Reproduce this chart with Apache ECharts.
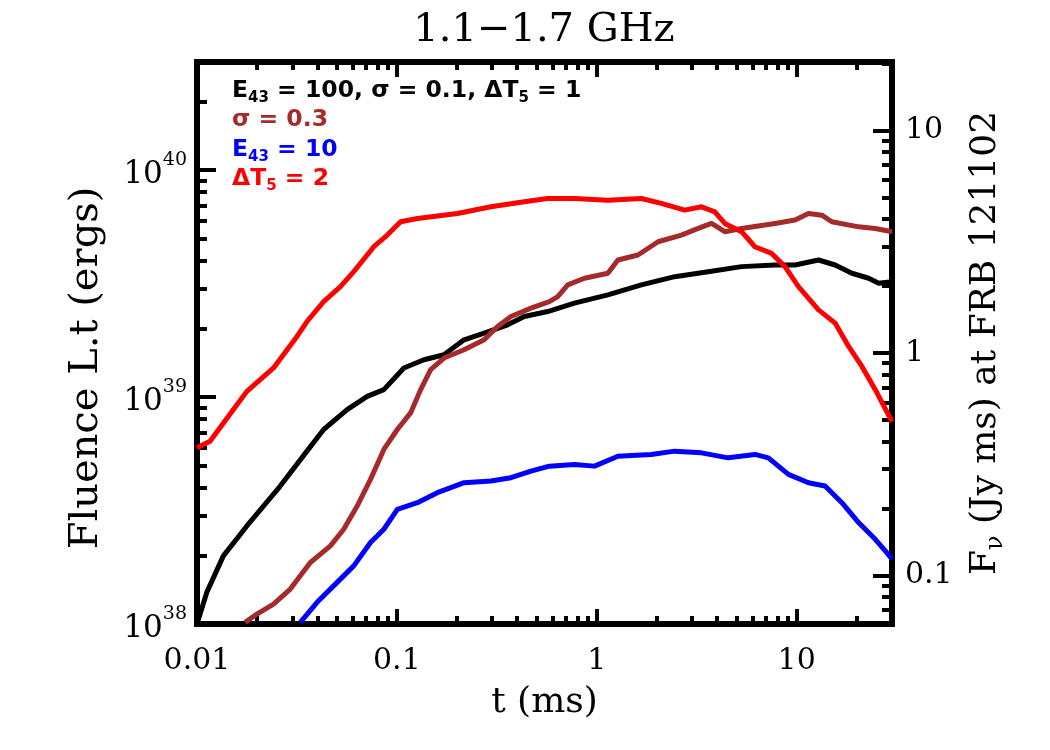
<!DOCTYPE html>
<html><head><meta charset="utf-8">
<script src="https://cdn.jsdelivr.net/npm/echarts@6/dist/echarts.min.js"></script>
<style>html,body{margin:0;padding:0;background:#fff}#c{width:1050px;height:750px}</style>
</head><body><div id="c"></div>
<script>
// ---------- text ----------
const titleText = '1.1\u22121.7 GHz';
const xName = 't (ms)';
const yName = 'Fluence L.t (ergs)';
const y2Name = 'F{sub|\u03bd} (Jy ms) at FRB 121102';
const legendTexts = ['E{s|43} = 100, \u03c3 = 0.1, \u0394T{s|5} = 1', '\u03c3 = 0.3', 'E{s|43} = 10', '\u0394T{s|5} = 2'];
const legendColors = ['#000000', '#a52a2a', '#0000ff', '#ff0000'];

// ---------- ticks ----------
const xTicks = [0.01, 0.1, 1, 10];
const xTickLabels = ['0.01', '0.1', '1', '10'];
const yTicks = [1e38, 1e39, 1e40];
const yTickExps = ['38', '39', '40'];
const y2Ticks = [0.1, 1, 10];
const y2TickLabels = ['0.1', '1', '10'];
const minorFactors = [2, 3, 4, 5, 6, 7, 8, 9];
const xRange = [0.01, 30];
const yRange = [1e38, 3e40];
const y2Range = [0.0604, 20.35];

// ---------- data (t in ms, fluence in erg) ----------
const blackT = [0.01, 0.01119, 0.01355, 0.01776, 0.02609, 0.0355, 0.04302, 0.05637, 0.07104, 0.08608, 0.1084, 0.1366, 0.1721, 0.2169, 0.2733, 0.3581, 0.4338, 0.5685, 0.773, 1.137, 1.671, 2.454, 3.609, 5.303, 7.792, 9.817, 12.87, 15.58, 18.9, 22.93, 25.73, 30];
const blackL = [1.0e38, 1.378e38, 1.996e38, 2.705e38, 4.055e38, 5.78e38, 7.2e38, 8.81e38, 1.008e39, 1.079e39, 1.344e39, 1.462e39, 1.538e39, 1.789e39, 1.915e39, 2.083e39, 2.266e39, 2.384e39, 2.595e39, 2.822e39, 3.123e39, 3.396e39, 3.573e39, 3.76e39, 3.823e39, 3.823e39, 4.022e39, 3.823e39, 3.515e39, 3.342e39, 3.177e39, 3.228e39];

const brownT = [0.01741, 0.01994, 0.02415, 0.02928, 0.0369, 0.04648, 0.0542, 0.06329, 0.07379, 0.08608, 0.1005, 0.1171, 0.1315, 0.1476, 0.1721, 0.2169, 0.2733, 0.319, 0.372, 0.4688, 0.5792, 0.638, 0.7161, 0.8676, 1.137, 1.276, 1.608, 2.026, 2.652, 3.216, 3.75, 4.372, 5.303, 7.792, 9.817, 11.46, 13.37, 15.0, 20.42, 24.74, 30];
const brownL = [1.017e38, 1.106e38, 1.224e38, 1.425e38, 1.867e38, 2.209e38, 2.616e38, 3.311e38, 4.339e38, 5.88e38, 7.2e38, 8.52e38, 1.079e39, 1.321e39, 1.487e39, 1.618e39, 1.789e39, 2.048e39, 2.266e39, 2.467e39, 2.637e39, 2.774e39, 3.123e39, 3.342e39, 3.515e39, 4.022e39, 4.23e39, 4.84e39, 5.18e39, 5.54e39, 5.83e39, 5.36e39, 5.54e39, 5.83e39, 6.03e39, 6.45e39, 6.34e39, 5.93e39, 5.63e39, 5.54e39, 5.36e39];

const blueT = [0.03288, 0.03988, 0.05218, 0.06085, 0.07379, 0.08608, 0.1005, 0.1266, 0.1594, 0.2169, 0.2952, 0.372, 0.4688, 0.5792, 0.773, 0.9739, 1.276, 1.875, 2.454, 3.341, 4.548, 6.185, 7.22, 9.096, 11.46, 13.88, 16.84, 20.42, 24.74, 27.77, 30];
const blueL = [1.017e38, 1.246e38, 1.577e38, 1.804e38, 2.287e38, 2.616e38, 3.203e38, 3.426e38, 3.792e38, 4.196e38, 4.265e38, 4.414e38, 4.719e38, 4.964e38, 5.05e38, 4.964e38, 5.49e38, 5.59e38, 5.78e38, 5.68e38, 5.4e38, 5.59e38, 5.4e38, 4.564e38, 4.196e38, 4.055e38, 3.426e38, 2.8e38, 2.363e38, 2.1e38, 1.931e38];

const redT = [0.01, 0.01162, 0.01521, 0.01776, 0.02415, 0.03164, 0.0355, 0.04302, 0.05218, 0.06085, 0.07667, 0.0895, 0.1044, 0.1266, 0.201, 0.2952, 0.4338, 0.5685, 0.773, 1.137, 1.671, 2.105, 2.754, 3.341, 3.896, 4.372, 5.303, 6.185, 7.502, 8.748, 10.21, 12.87, 15.58, 18.2, 21.22, 24.74, 30];
const redL = [5.98e38, 6.39e38, 8.81e38, 1.06e39, 1.344e39, 1.851e39, 2.154e39, 2.637e39, 3.069e39, 3.573e39, 4.602e39, 5.18e39, 5.93e39, 6.13e39, 6.45e39, 6.9e39, 7.26e39, 7.51e39, 7.51e39, 7.38e39, 7.51e39, 7.14e39, 6.67e39, 6.9e39, 6.56e39, 5.83e39, 5.36e39, 4.6e39, 4.3e39, 3.76e39, 3.07e39, 2.424e39, 2.12e39, 1.672e39, 1.366e39, 1.079e39, 7.8e38];

// ---------- build ----------
const AX = '#000';
const SERIF = 'DejaVu Serif';
function tickIndex(v, ticks) {
  const lv = Math.log10(v);
  for (let i = 0; i < ticks.length; i++) if (Math.abs(lv - Math.log10(ticks[i])) < 1e-6) return i;
  return -1;
}
function pairs(t, L) { return t.map((v, i) => [v, L[i]]); }
function lineAx() { return { show: true, onZero: false, lineStyle: { color: AX, width: 6, cap: 'square' } }; }
function minorAxis(position, range, k, len) {
  return {
    type: 'log', logBase: 10, position: position, min: range[0] / k, max: range[1] / k,
    axisLine: { show: false, onZero: false }, axisLabel: { show: false }, splitLine: { show: false },
    axisTick: { show: true, inside: true, length: len, lineStyle: { color: AX, width: 4 } },
    silent: true
  };
}

const xAxes = [
  {
    type: 'log', logBase: 10, position: 'bottom', min: xRange[0], max: xRange[1],
    name: xName, nameLocation: 'middle', nameGap: 61,
    nameTextStyle: { fontFamily: SERIF, fontSize: 36, color: AX },
    axisLine: lineAx(), splitLine: { show: false },
    axisTick: { show: true, inside: true, length: 15, lineStyle: { color: AX, width: 4 } },
    axisLabel: { show: true, margin: 22, fontFamily: SERIF, fontSize: 30, color: AX,
      formatter: v => { const i = tickIndex(v, xTicks); return i < 0 ? '' : xTickLabels[i]; } }
  },
  {
    type: 'log', logBase: 10, position: 'top', min: xRange[0], max: xRange[1],
    axisLine: lineAx(), splitLine: { show: false }, axisLabel: { show: false },
    axisTick: { show: true, inside: true, length: 15, lineStyle: { color: AX, width: 4 } }
  }
];
minorFactors.forEach(k => { xAxes.push(minorAxis('bottom', xRange, k, 8)); xAxes.push(minorAxis('top', xRange, k, 8)); });

const yAxes = [
  {
    type: 'log', logBase: 10, position: 'left', min: yRange[0], max: yRange[1],
    name: yName, nameLocation: 'middle', nameGap: 90, nameRotate: 90,
    nameTextStyle: { fontFamily: SERIF, fontSize: 40, color: AX, padding: [0, 50, 0, 0] },
    axisLine: lineAx(), splitLine: { show: false },
    axisTick: { show: true, inside: true, length: 19, lineStyle: { color: AX, width: 4 } },
    axisLabel: { show: true, margin: 10, color: AX, padding: [10, 0, 0, 0],
      formatter: v => { const i = tickIndex(v, yTicks); return i < 0 ? '' : '{b|10}{s|' + yTickExps[i] + '}'; },
      rich: {
        b: { fontFamily: SERIF, fontSize: 31, lineHeight: 36, color: AX },
        s: { fontFamily: SERIF, fontSize: 19, padding: [0, 0, 30, 0], color: AX }
      } }
  },
  {
    type: 'log', logBase: 10, position: 'right', min: y2Range[0], max: y2Range[1],
    name: y2Name, nameLocation: 'middle', nameGap: 71, nameRotate: 90,
    nameTextStyle: { fontFamily: SERIF, fontSize: 36, lineHeight: 44, color: AX,
      rich: { sub: { fontFamily: SERIF, fontSize: 24, lineHeight: 20, verticalAlign: 'bottom', color: AX } } },
    axisLine: lineAx(), splitLine: { show: false },
    axisTick: { show: true, inside: true, length: 19, lineStyle: { color: AX, width: 4 } },
    axisLabel: { show: true, margin: 13, fontFamily: SERIF, fontSize: 30, color: AX,
      formatter: v => { const i = tickIndex(v, y2Ticks); return i < 0 ? '' : y2TickLabels[i]; } }
  }
];
minorFactors.forEach(k => { yAxes.push(minorAxis('left', yRange, k, 10)); yAxes.push(minorAxis('right', y2Range, k, 10)); });

function lineSeries(name, t, L, color) {
  return { name: name, type: 'line', xAxisIndex: 0, yAxisIndex: 0, data: pairs(t, L),
    showSymbol: false, symbol: 'none', clip: true, silent: true,
    lineStyle: { color: color, width: 5, join: 'round' }, itemStyle: { color: color } };
}

const chart = echarts.init(document.getElementById('c'), null, { renderer: 'canvas' });
chart.setOption({
  backgroundColor: '#ffffff',
  animation: false,
  grid: { left: 197, right: 158, top: 62, bottom: 126, containLabel: false, outerBoundsMode: 'none' },
  xAxis: xAxes,
  yAxis: yAxes,
  series: [
    lineSeries('black', blackT, blackL, legendColors[0]),
    lineSeries('brown', brownT, brownL, legendColors[1]),
    lineSeries('blue', blueT, blueL, legendColors[2]),
    lineSeries('red', redT, redL, legendColors[3])
  ],
  graphic: [
    { type: 'text', x: 544, y: 31, z: 100,
      style: { text: titleText, fontFamily: SERIF, fontSize: 40, fill: AX,
        align: 'center', verticalAlign: 'middle', textAlign: 'center', textVerticalAlign: 'middle' } }
  ].concat(legendTexts.map((txt, i) => ({
    type: 'text', x: 232, y: 91 + i * 29.3, z: 100,
    style: { text: txt, fontFamily: 'DejaVu Sans', fontWeight: 'bold', fontSize: 23.5, lineHeight: 30,
      fill: legendColors[i], align: 'left', verticalAlign: 'middle', textAlign: 'left', textVerticalAlign: 'middle',
      rich: { s: { fontFamily: 'DejaVu Sans', fontWeight: 'bold', fontSize: 15, lineHeight: 14,
        verticalAlign: 'bottom', fill: legendColors[i] } } }
  })))
});
</script></body></html>
